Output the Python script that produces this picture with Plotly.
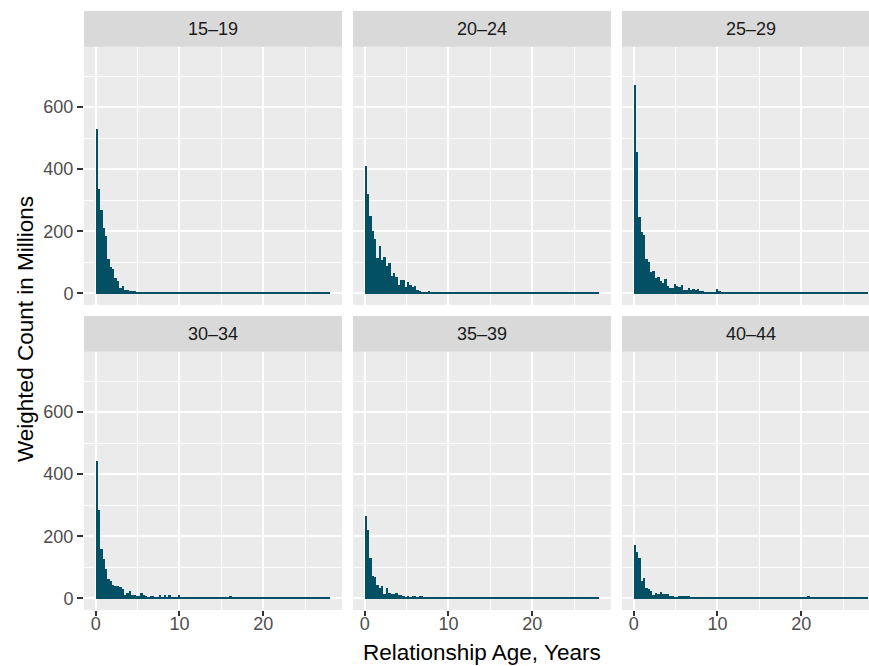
import numpy as np
import plotly.graph_objects as go

# ---------------- data ----------------
panel_labels = ["15–19", "20–24", "25–29", "30–34", "35–39", "40–44"]

# histogram setup: 100 bins from 0 to 28 years
bin_start = 0.0
bin_end = 28.0
n_bins = 100

counts_15_19 = [
    532, 336, 268, 210, 185, 111, 85, 78, 49, 40,
    17, 24, 11, 11, 9, 8, 8, 5, 3, 2,
    5, 4, 3, 3, 3, 3, 3, 3, 3, 3,
    3, 3, 3, 3, 3, 3, 3, 3, 3, 3,
    3, 3, 3, 3, 3, 3, 3, 3, 3, 3,
    3, 3, 3, 3, 3, 3, 3, 3, 3, 3,
    3, 3, 3, 3, 3, 3, 3, 3, 3, 3,
    3, 3, 3, 3, 3, 3, 3, 3, 3, 3,
    3, 3, 3, 3, 3, 3, 3, 3, 3, 3,
    3, 3, 3, 3, 3, 3, 3, 3, 3, 3,
]
counts_20_24 = [
    410, 320, 249, 201, 175, 114, 152, 107, 117, 90,
    98, 56, 65, 52, 28, 43, 45, 20, 37, 28,
    22, 24, 13, 9, 6, 6, 3, 8, 5, 3,
    3, 3, 5, 3, 3, 3, 3, 3, 3, 3,
    3, 3, 3, 3, 3, 3, 3, 3, 3, 3,
    3, 3, 3, 3, 3, 3, 3, 3, 3, 3,
    3, 3, 3, 3, 3, 3, 3, 3, 3, 3,
    3, 3, 3, 3, 3, 3, 3, 3, 3, 3,
    3, 3, 3, 3, 3, 3, 3, 3, 3, 3,
    3, 3, 3, 3, 3, 3, 3, 3, 3, 3,
]
counts_25_29 = [
    673, 457, 246, 200, 188, 111, 101, 70, 72, 49,
    53, 40, 33, 46, 24, 17, 17, 30, 24, 20,
    27, 11, 11, 17, 11, 14, 11, 14, 8, 8,
    5, 5, 5, 5, 5, 14, 8, 5, 5, 5,
    3, 5, 3, 5, 3, 3, 3, 5, 3, 3,
    3, 3, 3, 3, 3, 3, 3, 3, 3, 3,
    3, 3, 3, 3, 3, 3, 3, 3, 3, 3,
    3, 3, 3, 3, 3, 3, 3, 3, 3, 3,
    3, 3, 3, 3, 3, 3, 3, 3, 3, 3,
    3, 3, 3, 3, 3, 3, 3, 3, 3, 3,
]
counts_30_34 = [
    443, 286, 160, 128, 96, 63, 57, 44, 42, 41,
    38, 31, 12, 18, 25, 12, 12, 9, 9, 18,
    12, 9, 6, 9, 9, 6, 6, 12, 6, 12,
    6, 12, 6, 3, 3, 12, 6, 3, 3, 3,
    6, 6, 3, 3, 6, 6, 3, 6, 6, 3,
    3, 3, 6, 6, 3, 3, 3, 9, 3, 3,
    3, 3, 3, 3, 3, 3, 3, 3, 3, 3,
    3, 3, 3, 3, 3, 3, 3, 3, 3, 3,
    3, 3, 3, 3, 3, 3, 3, 3, 3, 3,
    3, 3, 3, 3, 3, 3, 3, 3, 3, 3,
]
counts_35_39 = [
    265, 220, 130, 72, 69, 43, 33, 40, 14, 33,
    17, 14, 14, 17, 11, 11, 8, 5, 8, 5,
    8, 8, 6, 8, 8, 5, 3, 3, 3, 3,
    3, 5, 3, 5, 5, 5, 3, 5, 3, 3,
    3, 5, 3, 3, 3, 3, 5, 5, 3, 3,
    3, 3, 3, 5, 3, 3, 3, 3, 3, 3,
    3, 3, 3, 3, 5, 3, 3, 3, 3, 3,
    3, 3, 3, 3, 5, 3, 3, 3, 3, 3,
    3, 3, 3, 3, 3, 3, 3, 3, 3, 3,
    3, 3, 3, 3, 3, 3, 3, 3, 3, 3,
]
counts_40_44 = [
    172, 149, 130, 56, 65, 33, 30, 25, 11, 17,
    14, 20, 14, 14, 14, 8, 8, 5, 5, 8,
    8, 8, 8, 8, 5, 5, 5, 3, 3, 3,
    3, 3, 5, 3, 5, 5, 3, 3, 3, 3,
    3, 3, 3, 3, 3, 3, 3, 3, 3, 3,
    3, 3, 3, 3, 3, 3, 3, 5, 3, 3,
    3, 3, 3, 3, 3, 3, 3, 3, 3, 3,
    3, 3, 5, 3, 9, 3, 3, 3, 3, 3,
    3, 3, 5, 3, 3, 3, 3, 3, 3, 3,
    3, 3, 3, 6, 3, 3, 3, 3, 3, 3,
]
panel_counts = [counts_15_19, counts_20_24, counts_25_29,
                counts_30_34, counts_35_39, counts_40_44]

x_tick_vals = [0, 10, 20]
y_tick_vals = [0, 200, 400, 600]

# ---------------- style ----------------
BAR_COLOR = "#034f63"
PANEL_BG = "#EBEBEB"
STRIP_BG = "#D9D9D9"
FONT = "Liberation Sans, Arial, Helvetica, sans-serif"

W, H = 869, 666
ML, MR, MT, MB = 84, 0, 11, 56
PW = W - ML - MR
PH = H - MT - MB

def px_x(p):
    return (p - ML) / PW

def px_y(p):
    return (H - MB - p) / PH

col_px = [(84, 342), (353, 611), (622, 869)]
row_panel_px = [(46.7, 305), (351.7, 610)]
row_strip_px = [(11, 46.7), (316, 351.7)]

edges = np.linspace(bin_start, bin_end, n_bins + 1)
centers = (edges[:-1] + edges[1:]) / 2
bw = edges[1] - edges[0]

# ggplot-like expansion
data_span = bin_end - bin_start
x_lo = bin_start - 0.05 * data_span
x_hi = bin_end + 0.05 * data_span
px_per_unit = (col_px[0][1] - col_px[0][0]) / (x_hi - x_lo)
y_max_data = 757
y_lo, y_hi = -0.05 * y_max_data, 1.05 * y_max_data

fig = go.Figure()
layout = {}
shapes = []
annotations = []

for i, (lab, vals) in enumerate(zip(panel_labels, panel_counts)):
    r, c = divmod(i, 3)
    n = i + 1
    xa = "x" if n == 1 else f"x{n}"
    ya = "y" if n == 1 else f"y{n}"
    fig.add_trace(go.Bar(
        x=centers, y=vals, width=bw,
        marker=dict(color=BAR_COLOR, line=dict(width=0)),
        xaxis=xa, yaxis=ya, showlegend=False, hoverinfo="x+y",
    ))
    cx0, cx1 = col_px[c]
    this_hi = x_lo + (cx1 - cx0) / px_per_unit
    py0, py1 = row_panel_px[r]
    xkey = "xaxis" if n == 1 else f"xaxis{n}"
    ykey = "yaxis" if n == 1 else f"yaxis{n}"
    layout[xkey] = dict(
        domain=[px_x(cx0), px_x(cx1)], anchor=ya, range=[x_lo, this_hi],
        tickvals=x_tick_vals, ticktext=[str(v) for v in x_tick_vals],
        showgrid=True, gridcolor="white", gridwidth=2, zeroline=False,
        minor=dict(dtick=5, tick0=0, showgrid=True, gridcolor="white", gridwidth=1),
        showticklabels=(r == 1), ticks="outside" if r == 1 else "",
        ticklen=5, tickwidth=2, tickcolor="#333333",
        ticklabelstandoff=-8,
        tickfont=dict(size=18, color="#4D4D4D", family=FONT),
        showline=False, fixedrange=True,
    )
    layout[ykey] = dict(
        domain=[px_y(py1), px_y(py0)], anchor=xa, range=[y_lo, y_hi],
        tickvals=y_tick_vals, ticktext=[str(v) for v in y_tick_vals],
        showgrid=True, gridcolor="white", gridwidth=2, zeroline=False,
        minor=dict(dtick=100, tick0=0, showgrid=True, gridcolor="white", gridwidth=1),
        showticklabels=(c == 0), ticks="outside" if c == 0 else "",
        ticklen=6, tickwidth=2, tickcolor="#333333",
        ticklabelstandoff=0,
        tickfont=dict(size=18, color="#4D4D4D", family=FONT),
        showline=False, fixedrange=True,
    )
    # panel background
    shapes.append(dict(type="rect", xref="paper", yref="paper",
                       x0=px_x(cx0), x1=px_x(cx1), y0=px_y(py1), y1=px_y(py0),
                       fillcolor=PANEL_BG, line=dict(width=0), layer="below"))
    # strip
    sy0, sy1 = row_strip_px[r]
    shapes.append(dict(type="rect", xref="paper", yref="paper",
                       x0=px_x(cx0), x1=px_x(cx1), y0=px_y(sy1), y1=px_y(sy0),
                       fillcolor=STRIP_BG, line=dict(width=0), layer="below"))
    annotations.append(dict(
        text=lab, xref="paper", yref="paper",
        x=px_x((cx0 + (cx0 + 258)) / 2), y=px_y((sy0 + sy1) / 2),
        xanchor="center", yanchor="middle", showarrow=False,
        font=dict(size=18, color="#1A1A1A", family=FONT)))

annotations.append(dict(
    text="Relationship Age, Years", xref="paper", yref="paper",
    x=px_x(482), y=px_y(652), xanchor="center", yanchor="middle",
    showarrow=False, font=dict(size=22.5, color="black", family=FONT)))
annotations.append(dict(
    text="Weighted Count in Millions", xref="paper", yref="paper",
    x=px_x(25), y=px_y(329), xanchor="center", yanchor="middle",
    textangle=-90, showarrow=False,
    font=dict(size=22.5, color="black", family=FONT)))

fig.update_layout(
    width=W, height=H,
    margin=dict(l=ML, r=MR, t=MT, b=MB, pad=0),
    paper_bgcolor="white", plot_bgcolor=PANEL_BG,
    bargap=0, barmode="overlay",
    shapes=shapes, annotations=annotations,
    font=dict(family=FONT),
    **layout,
)

fig.write_html("out.html", config={"displayModeBar": False})
